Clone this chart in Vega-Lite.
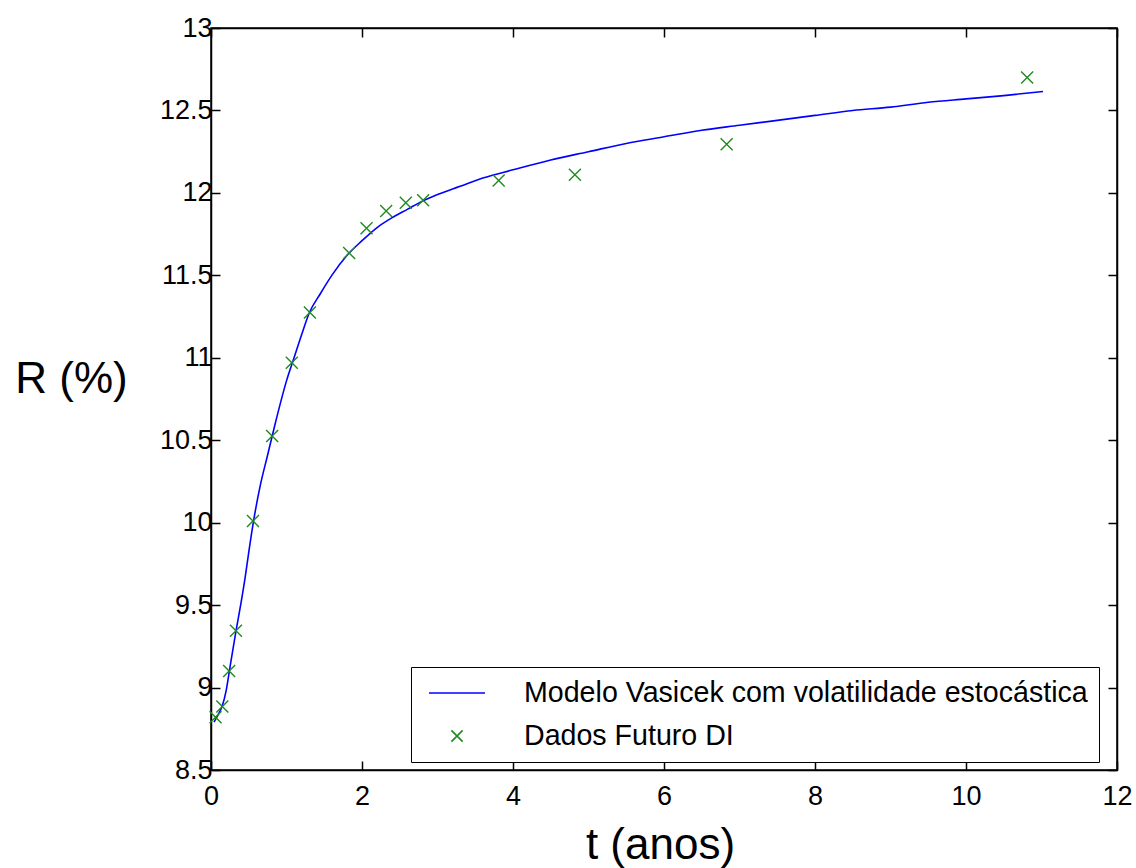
{
  "$schema": "https://vega.github.io/schema/vega-lite/v6.json",
  "width": 906,
  "height": 742,
  "autosize": {"type": "none"},
  "padding": {"left": 211, "top": 28, "right": 19, "bottom": 98},
  "background": "white",
  "config": {
    "font": "Liberation Sans",
    "view": {"stroke": "black", "strokeWidth": 1.5},
    "axis": {
      "grid": false,
      "labelFlush": false,
      "labelOverlap": false,
      "domainColor": "black",
      "domainWidth": 1.5,
      "tickColor": "black",
      "tickWidth": 1.5,
      "tickSize": -9,
      "labelColor": "black",
      "labelFont": "Liberation Sans",
      "labelFontSize": 27,
      "titleFont": "Liberation Sans",
      "titleFontWeight": "normal",
      "titleColor": "black"
    }
  },
  "datasets": {
    "model": [
      {"t": 0.04, "R": 8.79, "series": "Modelo Vasicek com volatilidade estocástica"},
      {"t": 0.10, "R": 8.84, "series": "Modelo Vasicek com volatilidade estocástica"},
      {"t": 0.15, "R": 8.89, "series": "Modelo Vasicek com volatilidade estocástica"},
      {"t": 0.20, "R": 8.98, "series": "Modelo Vasicek com volatilidade estocástica"},
      {"t": 0.25, "R": 9.12, "series": "Modelo Vasicek com volatilidade estocástica"},
      {"t": 0.33, "R": 9.34, "series": "Modelo Vasicek com volatilidade estocástica"},
      {"t": 0.40, "R": 9.52, "series": "Modelo Vasicek com volatilidade estocástica"},
      {"t": 0.45, "R": 9.66, "series": "Modelo Vasicek com volatilidade estocástica"},
      {"t": 0.50, "R": 9.82, "series": "Modelo Vasicek com volatilidade estocástica"},
      {"t": 0.56, "R": 10.00, "series": "Modelo Vasicek com volatilidade estocástica"},
      {"t": 0.65, "R": 10.22, "series": "Modelo Vasicek com volatilidade estocástica"},
      {"t": 0.75, "R": 10.41, "series": "Modelo Vasicek com volatilidade estocástica"},
      {"t": 0.85, "R": 10.60, "series": "Modelo Vasicek com volatilidade estocástica"},
      {"t": 1.00, "R": 10.86, "series": "Modelo Vasicek com volatilidade estocástica"},
      {"t": 1.10, "R": 11.00, "series": "Modelo Vasicek com volatilidade estocástica"},
      {"t": 1.20, "R": 11.14, "series": "Modelo Vasicek com volatilidade estocástica"},
      {"t": 1.30, "R": 11.27, "series": "Modelo Vasicek com volatilidade estocástica"},
      {"t": 1.45, "R": 11.39, "series": "Modelo Vasicek com volatilidade estocástica"},
      {"t": 1.60, "R": 11.50, "series": "Modelo Vasicek com volatilidade estocástica"},
      {"t": 1.80, "R": 11.62, "series": "Modelo Vasicek com volatilidade estocástica"},
      {"t": 2.00, "R": 11.71, "series": "Modelo Vasicek com volatilidade estocástica"},
      {"t": 2.20, "R": 11.79, "series": "Modelo Vasicek com volatilidade estocástica"},
      {"t": 2.40, "R": 11.85, "series": "Modelo Vasicek com volatilidade estocástica"},
      {"t": 2.60, "R": 11.90, "series": "Modelo Vasicek com volatilidade estocástica"},
      {"t": 2.80, "R": 11.95, "series": "Modelo Vasicek com volatilidade estocástica"},
      {"t": 3.00, "R": 11.99, "series": "Modelo Vasicek com volatilidade estocástica"},
      {"t": 3.30, "R": 12.04, "series": "Modelo Vasicek com volatilidade estocástica"},
      {"t": 3.60, "R": 12.09, "series": "Modelo Vasicek com volatilidade estocástica"},
      {"t": 4.00, "R": 12.14, "series": "Modelo Vasicek com volatilidade estocástica"},
      {"t": 4.50, "R": 12.20, "series": "Modelo Vasicek com volatilidade estocástica"},
      {"t": 5.00, "R": 12.25, "series": "Modelo Vasicek com volatilidade estocástica"},
      {"t": 5.50, "R": 12.30, "series": "Modelo Vasicek com volatilidade estocástica"},
      {"t": 6.00, "R": 12.34, "series": "Modelo Vasicek com volatilidade estocástica"},
      {"t": 6.50, "R": 12.38, "series": "Modelo Vasicek com volatilidade estocástica"},
      {"t": 7.00, "R": 12.41, "series": "Modelo Vasicek com volatilidade estocástica"},
      {"t": 7.50, "R": 12.44, "series": "Modelo Vasicek com volatilidade estocástica"},
      {"t": 8.00, "R": 12.47, "series": "Modelo Vasicek com volatilidade estocástica"},
      {"t": 8.50, "R": 12.50, "series": "Modelo Vasicek com volatilidade estocástica"},
      {"t": 9.00, "R": 12.52, "series": "Modelo Vasicek com volatilidade estocástica"},
      {"t": 9.50, "R": 12.55, "series": "Modelo Vasicek com volatilidade estocástica"},
      {"t": 10.00, "R": 12.57, "series": "Modelo Vasicek com volatilidade estocástica"},
      {"t": 10.50, "R": 12.59, "series": "Modelo Vasicek com volatilidade estocástica"},
      {"t": 11.02, "R": 12.615, "series": "Modelo Vasicek com volatilidade estocástica"}
    ],
    "dados": [
      {"t": 0.06, "R": 8.82, "series": "Dados Futuro DI"},
      {"t": 0.15, "R": 8.885, "series": "Dados Futuro DI"},
      {"t": 0.24, "R": 9.10, "series": "Dados Futuro DI"},
      {"t": 0.33, "R": 9.345, "series": "Dados Futuro DI"},
      {"t": 0.556, "R": 10.01, "series": "Dados Futuro DI"},
      {"t": 0.81, "R": 10.525, "series": "Dados Futuro DI"},
      {"t": 1.07, "R": 10.97, "series": "Dados Futuro DI"},
      {"t": 1.31, "R": 11.275, "series": "Dados Futuro DI"},
      {"t": 1.83, "R": 11.635, "series": "Dados Futuro DI"},
      {"t": 2.06, "R": 11.785, "series": "Dados Futuro DI"},
      {"t": 2.32, "R": 11.89, "series": "Dados Futuro DI"},
      {"t": 2.58, "R": 11.94, "series": "Dados Futuro DI"},
      {"t": 2.81, "R": 11.955, "series": "Dados Futuro DI"},
      {"t": 3.81, "R": 12.075, "series": "Dados Futuro DI"},
      {"t": 4.82, "R": 12.11, "series": "Dados Futuro DI"},
      {"t": 6.83, "R": 12.295, "series": "Dados Futuro DI"},
      {"t": 10.81, "R": 12.70, "series": "Dados Futuro DI"}
    ]
  },
  "layer": [
    {
      "data": {"name": "model"},
      "mark": {"type": "line", "strokeWidth": 1.6, "interpolate": "monotone"},
      "encoding": {
        "x": {
          "field": "t", "type": "quantitative",
          "scale": {"domain": [0, 12], "nice": false, "zero": false},
          "axis": {
            "orient": "bottom",
            "values": [0, 2, 4, 6, 8, 10, 12],
            "format": "d",
            "labelPadding": 22,
            "title": "t (anos)",
            "titleFontSize": 44,
            "titleX": 449,
            "titleY": 75,
            "titleAnchor": null,
            "titleAlign": "center",
            "titleBaseline": "middle"
          }
        },
        "y": {
          "field": "R", "type": "quantitative",
          "scale": {"domain": [8.5, 13], "nice": false, "zero": false},
          "axis": {
            "orient": "left",
            "values": [8.5, 9, 9.5, 10, 10.5, 11, 11.5, 12, 12.5, 13],
            "format": "~g",
            "labelPadding": 8,
            "title": "R (%)",
            "titleFontSize": 44,
            "titleAngle": 0,
            "titleX": -140,
            "titleY": 351,
            "titleAlign": "center",
            "titleBaseline": "middle"
          }
        },
        "color": {
          "field": "series", "type": "nominal",
          "scale": {
            "domain": ["Modelo Vasicek com volatilidade estocástica", "Dados Futuro DI"],
            "range": ["#0000ff", "#1f8a1f"]
          },
          "legend": {
            "title": null,
            "orient": "none",
            "legendX": 200,
            "legendY": 639,
            "strokeColor": "black",
            "fillColor": "white",
            "padding": 11,
            "rowPadding": 13,
            "symbolSize": 784,
            "symbolStrokeWidth": 1.6,
            "symbolOffset": 20,
            "labelOffset": 52,
            "labelFont": "Liberation Sans",
            "labelFontSize": 28.6,
            "labelColor": "black",
            "labelLimit": 900
          }
        }
      }
    },
    {
      "data": {"name": "dados"},
      "mark": {"type": "point", "filled": false, "strokeWidth": 1.4, "size": 900, "opacity": 1},
      "encoding": {
        "x": {
          "field": "t", "type": "quantitative",
          "axis": {"orient": "top", "values": [0, 2, 4, 6, 8, 10, 12], "labels": false, "title": null}
        },
        "y": {
          "field": "R", "type": "quantitative",
          "axis": {"orient": "right", "values": [8.5, 9, 9.5, 10, 10.5, 11, 11.5, 12, 12.5, 13], "labels": false, "title": null}
        },
        "color": {"field": "series", "type": "nominal"},
        "shape": {
          "field": "series", "type": "nominal",
          "scale": {
            "domain": ["Modelo Vasicek com volatilidade estocástica", "Dados Futuro DI"],
            "range": ["M-2,0L2,0", "M-0.4,-0.4L0.4,0.4M-0.4,0.4L0.4,-0.4"]
          }
        }
      }
    }
  ],
  "resolve": {"axis": {"x": "independent", "y": "independent"}}
}
